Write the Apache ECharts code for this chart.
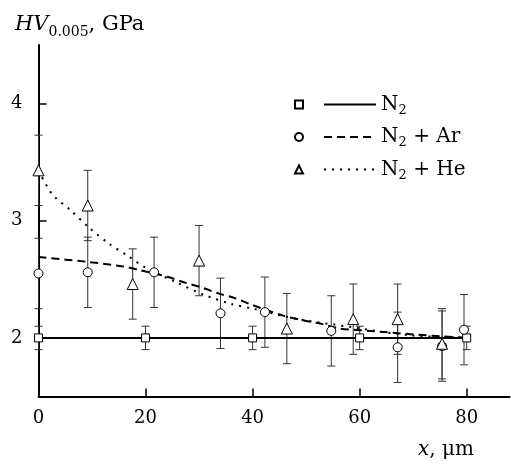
<!DOCTYPE html>
<html>
<head>
<meta charset="utf-8">
<script src="https://cdn.jsdelivr.net/npm/echarts@6/dist/echarts.min.js"></script>
<style>
  html, body { margin: 0; padding: 0; background: #fff; }
  #chart { width: 511px; height: 466px; }
</style>
</head>
<body>
<div id="chart"></div>
<script>
// tick labels
var xTicks = [0, 20, 40, 60, 80];
var yTicks = [2, 3, 4];

// N2 measurements
var n2X = [0, 20, 40, 60, 80];
var n2Y = [2.0, 2.0, 2.0, 2.0, 2.0];
var n2Err = [0.1, 0.1, 0.1, 0.1, 0.1];

// N2 + Ar measurements
var arX = [0, 9.2, 21.6, 34, 42.3, 54.7, 67.1, 75.4, 79.5];
var arY = [2.55, 2.56, 2.56, 2.21, 2.22, 2.06, 1.92, 1.93, 2.07];
var arErr = [0.3, 0.3, 0.3, 0.3, 0.3, 0.3, 0.3, 0.3, 0.3];

// N2 + He measurements
var heX = [0, 9.2, 17.6, 30, 46.4, 58.8, 67.1, 75.4];
var heY = [3.43, 3.13, 2.46, 2.66, 2.08, 2.16, 2.16, 1.95];
var heErr = [0.3, 0.3, 0.3, 0.3, 0.3, 0.3, 0.3, 0.3];

// fitted curves
var n2FitX = [0, 80];
var n2FitY = [2.0, 2.0];
var arFitX = [0, 9, 15.8, 18.8, 24.2, 27.5, 30.5, 33.6, 36.7, 40, 45.7, 49.4, 52.9, 56.3, 62, 70, 80];
var arFitY = [2.69, 2.65, 2.61, 2.58, 2.52, 2.47, 2.43, 2.38, 2.34, 2.28, 2.19, 2.15, 2.12, 2.08, 2.06, 2.03, 2.0];
var heFitX = [0, 2.5, 6, 9.5, 13, 16.7, 20, 25.5, 30.8, 36, 40, 48.5, 58.8, 64.5, 70, 80];
var heFitY = [3.43, 3.23, 3.09, 2.94, 2.81, 2.70, 2.60, 2.48, 2.37, 2.29, 2.25, 2.16, 2.09, 2.05, 2.02, 2.0];

var serif = "DejaVu Serif";

function zip(xs, ys, es) {
  return xs.map(function (x, i) {
    return es ? [x, ys[i], es[i]] : [x, ys[i]];
  });
}

function errorBars(name, xs, ys, es) {
  return {
    type: "custom",
    name: name,
    silent: true,
    z: 1,
    data: zip(xs, ys, es),
    encode: { x: 0, y: 1 },
    renderItem: function (params, api) {
      var x = api.value(0), y = api.value(1), e = api.value(2);
      var top = api.coord([x, y + e]);
      var bot = api.coord([x, y - e]);
      var hw = 4;
      var st = { stroke: "#333", lineWidth: 1 };
      return {
        type: "group",
        children: [
          { type: "line", shape: { x1: top[0], y1: top[1], x2: bot[0], y2: bot[1] }, style: st },
          { type: "line", shape: { x1: top[0] - hw, y1: top[1], x2: top[0] + hw, y2: top[1] }, style: st },
          { type: "line", shape: { x1: bot[0] - hw, y1: bot[1], x2: bot[0] + hw, y2: bot[1] }, style: st }
        ]
      };
    }
  };
}

function points(name, xs, ys, symbol, size) {
  return {
    type: "scatter",
    name: name,
    symbol: symbol,
    symbolSize: size,
    z: 5,
    data: zip(xs, ys),
    itemStyle: { color: "#fff", borderColor: "#000", borderWidth: 1, opacity: 1 }
  };
}

function fit(name, xs, ys, type) {
  return {
    type: "line",
    name: name,
    smooth: 0.3,
    symbol: "none",
    z: 3,
    data: zip(xs, ys),
    itemStyle: { color: "#000" },
    lineStyle: { color: "#000", width: 2, type: type }
  };
}

var rich = {
  n: { fontFamily: serif, fontSize: 20, lineHeight: 22, color: "#000" },
  s: { fontFamily: serif, fontSize: 13, lineHeight: 14, padding: [12, 0, 0, 0], color: "#000" }
};

function chem(name) {
  // "N2 + Ar" -> N with subscript 2
  return "{n|N}{s|2}{n|" + name.slice(2) + "}";
}

var chart = echarts.init(document.getElementById("chart"));
chart.setOption({
  animation: false,
  title: [
    {
      text: "{i|HV}{s|0.005}{n|, GPa}",
      left: 10,
      top: 8,
      textStyle: {
        fontWeight: "normal",
        rich: {
          i: { fontFamily: serif, fontSize: 21, fontStyle: "italic", fontWeight: "normal", lineHeight: 24, color: "#000" },
          n: { fontFamily: serif, fontSize: 21, fontWeight: "normal", lineHeight: 24, color: "#000" },
          s: { fontFamily: serif, fontSize: 14, fontWeight: "normal", lineHeight: 14, padding: [14, 0, 0, 0], color: "#000" }
        }
      }
    },
    {
      text: "{i|x}{n|, μm}",
      left: 413,
      top: 433,
      textStyle: {
        fontWeight: "normal",
        rich: {
          i: { fontFamily: serif, fontSize: 20, fontStyle: "italic", fontWeight: "normal", lineHeight: 24, color: "#000" },
          n: { fontFamily: serif, fontSize: 20, fontWeight: "normal", lineHeight: 24, color: "#000" }
        }
      }
    }
  ],
  legend: [
    {
      orient: "vertical",
      left: 289,
      top: 87,
      itemGap: 7.5,
      itemWidth: 8,
      itemHeight: 8,
      selectedMode: false,
      data: ["N2 pts", "N2 + Ar pts", "N2 + He pts"],
      formatter: function () { return "{n| }{s| }"; },
      textStyle: { rich: rich }
    },
    {
      orient: "vertical",
      left: 318,
      top: 87,
      itemGap: 7.5,
      itemWidth: 52,
      itemHeight: 10,
      selectedMode: false,
      itemStyle: { opacity: 0 },
      data: ["N2", "N2 + Ar", "N2 + He"],
      formatter: chem,
      textStyle: { rich: rich }
    }
  ],
  grid: { left: 38.5, right: 1.5, top: 45, bottom: 69.5 },
  xAxis: {
    type: "value",
    min: 0,
    max: 88,
    splitLine: { show: false },
    axisLine: { lineStyle: { color: "#000", width: 2 } },
    axisTick: { inside: true, length: 8, customValues: xTicks, lineStyle: { color: "#000", width: 1.5 } },
    axisLabel: { customValues: xTicks, margin: 13, fontFamily: serif, fontSize: 18, color: "#000" }
  },
  yAxis: {
    type: "value",
    min: 1.5,
    max: 4.5,
    splitLine: { show: false },
    axisLine: { show: true, lineStyle: { color: "#000", width: 2 } },
    axisTick: { show: true, inside: true, length: 8, customValues: yTicks, lineStyle: { color: "#000", width: 1.5 } },
    axisLabel: { customValues: yTicks, margin: 16, fontFamily: serif, fontSize: 18, color: "#000" }
  },
  series: [
    errorBars("N2 err", n2X, n2Y, n2Err),
    errorBars("N2 + Ar err", arX, arY, arErr),
    errorBars("N2 + He err", heX, heY, heErr),
    fit("N2", n2FitX, n2FitY, "solid"),
    fit("N2 + Ar", arFitX, arFitY, [8, 5]),
    fit("N2 + He", heFitX, heFitY, [2, 6]),
    points("N2 pts", n2X, n2Y, "rect", 8),
    points("N2 + Ar pts", arX, arY, "circle", 9),
    points("N2 + He pts", heX, heY, "triangle", 11)
  ]
});
</script>
</body>
</html>
